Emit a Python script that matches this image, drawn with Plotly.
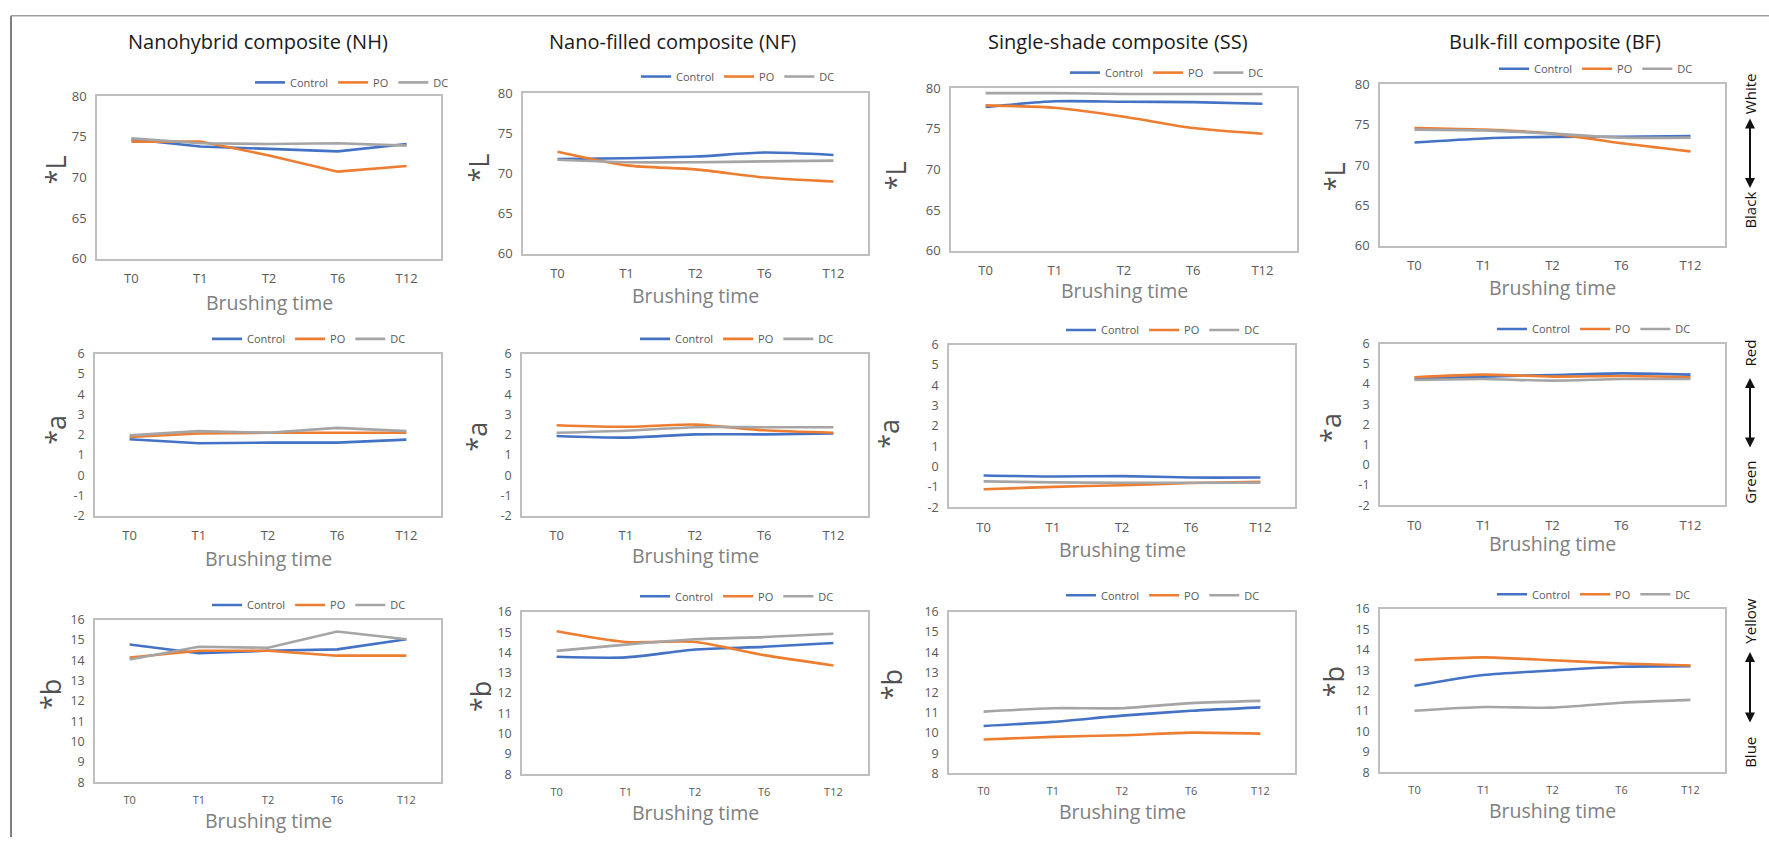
import plotly.graph_objects as go

W, H = 1769, 846

categories = ["T0", "T1", "T2", "T6", "T12"]
series_names = ["Control", "PO", "DC"]
series_colors = ["#4472C4", "#ED7D31", "#A5A5A5"]

# L* values
nh_L_control = [74.7, 73.8, 73.5, 73.2, 74.1]
nh_L_po = [74.4, 74.4, 72.7, 70.7, 71.4]
nh_L_dc = [74.8, 74.2, 74.1, 74.2, 73.9]
nf_L_control = [71.8, 71.9, 72.1, 72.6, 72.3]
nf_L_po = [72.7, 71.0, 70.5, 69.5, 69.0]
nf_L_dc = [71.7, 71.4, 71.4, 71.5, 71.6]
ss_L_control = [77.7, 78.4, 78.35, 78.3, 78.1]
ss_L_po = [77.9, 77.6, 76.5, 75.1, 74.4]
ss_L_dc = [79.4, 79.4, 79.3, 79.3, 79.3]
bf_L_control = [72.8, 73.3, 73.5, 73.5, 73.6]
bf_L_po = [74.6, 74.4, 73.9, 72.7, 71.7]
bf_L_dc = [74.4, 74.3, 73.9, 73.4, 73.4]

# a* values
nh_a_control = [1.78, 1.58, 1.61, 1.61, 1.76]
nh_a_po = [1.89, 2.06, 2.1, 2.1, 2.1]
nh_a_dc = [1.97, 2.18, 2.1, 2.34, 2.18]
nf_a_control = [1.94, 1.86, 2.02, 2.02, 2.06]
nf_a_po = [2.47, 2.39, 2.5, 2.22, 2.1]
nf_a_dc = [2.1, 2.2, 2.37, 2.37, 2.37]
ss_a_control = [-0.44, -0.49, -0.47, -0.54, -0.54]
ss_a_po = [-1.12, -1.0, -0.92, -0.81, -0.75]
ss_a_dc = [-0.73, -0.78, -0.8, -0.8, -0.8]
bf_a_control = [4.26, 4.37, 4.45, 4.53, 4.47]
bf_a_po = [4.34, 4.47, 4.37, 4.4, 4.34]
bf_a_dc = [4.2, 4.25, 4.17, 4.25, 4.25]

# b* values
nh_b_control = [14.78, 14.35, 14.47, 14.54, 15.04]
nh_b_po = [14.14, 14.47, 14.47, 14.23, 14.23]
nh_b_dc = [14.04, 14.67, 14.62, 15.42, 15.04]
nf_b_control = [13.79, 13.76, 14.15, 14.28, 14.47]
nf_b_po = [15.05, 14.52, 14.52, 13.87, 13.36]
nf_b_dc = [14.08, 14.39, 14.65, 14.76, 14.92]
ss_b_control = [10.35, 10.55, 10.86, 11.1, 11.27]
ss_b_po = [9.68, 9.81, 9.89, 10.02, 9.97]
ss_b_dc = [11.06, 11.23, 11.23, 11.48, 11.59]
bf_b_control = [12.24, 12.77, 12.99, 13.17, 13.2]
bf_b_po = [13.5, 13.63, 13.49, 13.33, 13.23]
bf_b_dc = [11.02, 11.2, 11.17, 11.41, 11.55]

panel_titles = ["Nanohybrid composite (NH)", "Nano-filled composite (NF)",
                "Single-shade composite (SS)", "Bulk-fill composite (BF)"]
y_titles = ["*L", "*a", "*b"]
x_title = "Brushing time"
y_ranges = [(60, 80, 5), (-2, 6, 1), (8, 16, 1)]

data = [
    [[nh_L_control, nh_L_po, nh_L_dc], [nf_L_control, nf_L_po, nf_L_dc],
     [ss_L_control, ss_L_po, ss_L_dc], [bf_L_control, bf_L_po, bf_L_dc]],
    [[nh_a_control, nh_a_po, nh_a_dc], [nf_a_control, nf_a_po, nf_a_dc],
     [ss_a_control, ss_a_po, ss_a_dc], [bf_a_control, bf_a_po, bf_a_dc]],
    [[nh_b_control, nh_b_po, nh_b_dc], [nf_b_control, nf_b_po, nf_b_dc],
     [ss_b_control, ss_b_po, ss_b_dc], [bf_b_control, bf_b_po, bf_b_dc]],
]

# layout geometry in pixels: plot box (x0, x1, y0, y1)
boxes = [
    [(97, 441, 89, 255), (523, 868, 86, 250), (951, 1297, 81, 247), (1380, 1725, 77, 242)],
    [(95, 441, 352, 518), (522, 868, 352, 518), (949, 1295, 343, 509), (1380, 1725, 342, 507)],
    [(95, 441, 624, 790), (522, 868, 616, 782), (949, 1295, 616, 781), (1380, 1725, 613, 780)],
]
legend_pos = [
    [(352, 75), (738, 69), (1167, 65), (1596, 61)],
    [(309, 337), (737, 337), (1163, 328), (1594, 327)],
    [(309, 609), (737, 600), (1163, 599), (1594, 598)],
]
xlabel_y = [[300, 293, 288, 285], [561, 558, 552, 546], [829, 821, 820, 819]]
ytitle_pos = [
    [(55, 165), (479, 163), (895, 171), (1334, 172)],
    [(56, 430), (477, 437), (889, 434), (1331, 428)],
    [(50, 701), (480, 702), (891, 691), (1333, 688)],
]
title_pos = [(258, 33), (672, 33), (1118, 33), (1555, 33)]

FONT = "Open Sans"
fx = lambda p: p / W
fy = lambda p: 1 - p / H


def tick_labels(lo, hi, dt):
    vals = list(range(lo, hi + 1, dt))
    return vals, [str(v) for v in vals]


fig = go.Figure()
layout = dict(width=W, height=H, margin=dict(l=0, r=0, t=0, b=0),
              paper_bgcolor="white", plot_bgcolor="white",
              font=dict(family=FONT, color="#595959"))
annotations = []

k = 0
for r in range(3):
    for c in range(4):
        k += 1
        xa = "x" if k == 1 else f"x{k}"
        ya = "y" if k == 1 else f"y{k}"
        lg = "legend" if k == 1 else f"legend{k}"
        shape = "linear" if c == 0 else "spline"
        for s in range(3):
            fig.add_trace(go.Scatter(
                x=categories, y=data[r][c][s], mode="lines",
                name=series_names[s], xaxis=xa, yaxis=ya, legend=lg,
                line=dict(color=series_colors[s], width=2.6, shape=shape, smoothing=0.7),
                showlegend=True, hoverinfo="skip"))
        x0, x1, y0, y1 = boxes[r][c]
        lo, hi, dt = y_ranges[r]
        tv, tt = tick_labels(lo, hi, dt)
        axname = "" if k == 1 else str(k)
        layout["xaxis" + axname] = dict(
            domain=[fx(x0), fx(x1)], anchor=ya, type="category",
            range=[-0.5, 4.5], showline=True, mirror=True, linecolor="#BFBFBF",
            linewidth=1.5, showgrid=False, zeroline=False, ticks="outside",
            ticklen=7, tickcolor="rgba(0,0,0,0)", fixedrange=True,
            tickfont=dict(size=11 if r == 2 else 13, color="#595959"))
        layout["yaxis" + axname] = dict(
            domain=[fy(y1), fy(y0)], anchor=xa, range=[lo, hi],
            tickmode="array", tickvals=tv, ticktext=tt,
            showline=True, mirror=True, linecolor="#BFBFBF", fixedrange=True,
            linewidth=1.5, showgrid=False, zeroline=False, ticks="outside",
            ticklen=6, tickcolor="rgba(0,0,0,0)",
            tickfont=dict(size=13 if r == 0 else 12.5, color="#595959"))
        lx, ly = legend_pos[r][c]
        layout[lg] = dict(orientation="h", x=fx(lx), xanchor="center",
                          y=fy(ly), yanchor="middle", bgcolor="rgba(0,0,0,0)",
                          font=dict(size=11, color="#595959"), itemwidth=30,
                          tracegroupgap=0)
        annotations.append(dict(text=x_title, xref="paper", yref="paper",
                                x=fx((x0 + x1) / 2), y=fy(xlabel_y[r][c]),
                                xanchor="center", yanchor="middle", showarrow=False,
                                font=dict(size=19.5, color="#808080")))
        tx, ty = ytitle_pos[r][c]
        annotations.append(dict(text=y_titles[r], xref="paper", yref="paper",
                                x=fx(tx), y=fy(ty), xanchor="center", yanchor="middle",
                                textangle=-90, showarrow=False,
                                font=dict(size=27, color="#505050")))

for c in range(4):
    tx, ty = title_pos[c]
    annotations.append(dict(text=panel_titles[c], xref="paper", yref="paper",
                            x=fx(tx), y=fy(ty), xanchor="center", yanchor="middle",
                            showarrow=False, font=dict(size=20, color="#1a1a1a")))

# right-side direction labels
side_labels = [("White", 87, "Black", 206, 112, 183),
               ("Red", 352, "Green", 484, 377, 448),
               ("Yellow", 626, "Blue", 760, 657, 729)]
for top, ty, bot, by, a0, a1 in side_labels:
    for t, yy in ((top, ty), (bot, by)):
        annotations.append(dict(text=t, xref="paper", yref="paper", x=fx(1750), y=fy(yy),
                                xanchor="center", yanchor="middle", textangle=-90,
                                showarrow=False, font=dict(size=15, color="#111111")))
    annotations.append(dict(text="", xref="paper", yref="paper", x=fx(1750), y=fy(a0),
                            ax=0, ay=a1 - a0, showarrow=True, arrowhead=2, startarrowhead=2,
                            arrowside="end+start", arrowwidth=2, arrowcolor="#111111",
                            arrowsize=1, startarrowsize=1))

layout["annotations"] = annotations
layout["shapes"] = [
    dict(type="line", xref="paper", yref="paper", x0=fx(11), x1=fx(11), y0=fy(7), y1=0,
         line=dict(color="#808080", width=2)),
    dict(type="line", xref="paper", yref="paper", x0=fx(11), x1=1, y0=fy(7), y1=fy(7),
         line=dict(color="#A0A0A0", width=1.5)),
]
fig.update_layout(**layout)
fig.write_html("out.html", config={"displayModeBar": False},
               post_script="document.body.style.margin='0';document.body.style.overflow='hidden';")
